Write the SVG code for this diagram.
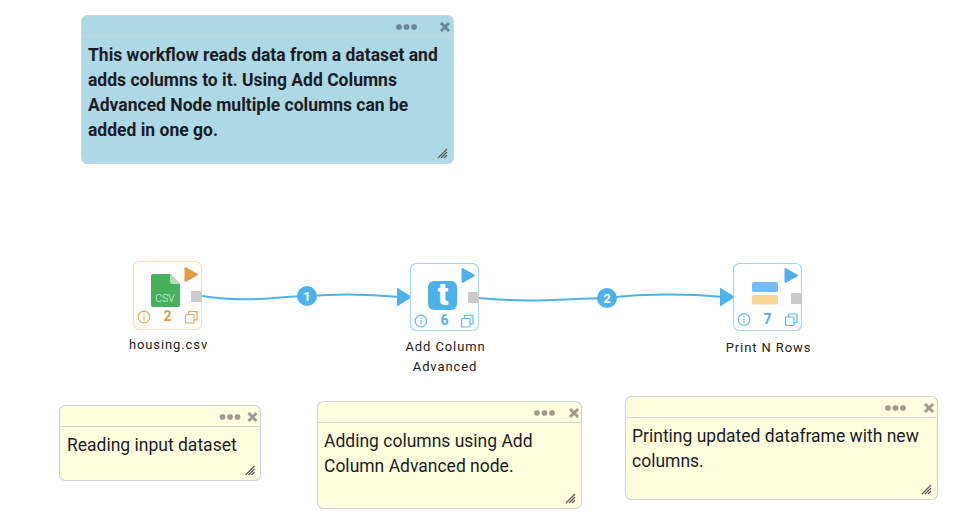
<svg xmlns="http://www.w3.org/2000/svg" width="969" height="523" viewBox="0 0 969 523">
<style>
text{font-family:Roboto,"Liberation Sans",sans-serif}
.note{stroke:#cfd4d8;stroke-width:1.2}
.yellow{fill:#ffffdf}
.blue{fill:#add8e6}
.hline{stroke:#cfd4d8;stroke-width:1}
.body{font-size:17.500px;fill:#1c1c24}
.bold{font-size:17.500px;font-weight:700;fill:#1c1c24}
.dot{fill:#9c9c8c}
.x{stroke:#9c9c8c;stroke-width:3;fill:none}
.dotb{fill:#6b8796}
.xb{stroke:#6b8796;stroke-width:3;fill:none}
.grip{stroke:#5a5a5a;stroke-width:1.200;fill:none}
.card{fill:#fff;stroke-width:1.2}
.port{fill:#cbcbcb}
.label{font-size:13px;letter-spacing:0.9px;fill:#222;text-anchor:middle}
.num{font-size:14px;font-weight:700;text-anchor:middle}
.edge{fill:none;stroke:#4db1ec;stroke-width:2}
.badge{fill:#4db1ec}
.bt{font-size:13px;font-weight:700;fill:#fff;text-anchor:middle}
.ico{fill:none;stroke-width:1.2}
.play{stroke-width:2;stroke-linejoin:round}
</style>
<defs>
<g id="grip"><path class="grip" d="M0 9L9 0M3 9L9 3M6 9L9 6"/></g>
<g id="dotsY"><rect class="dot" x="-2.800" y="-2.800" width="5.600" height="5.600" rx="2.200"/><rect class="dot" x="4.700" y="-2.800" width="5.600" height="5.600" rx="2.200"/><rect class="dot" x="12.200" y="-2.800" width="5.600" height="5.600" rx="2.200"/></g>
<g id="dotsB"><rect class="dotb" x="-2.800" y="-2.800" width="5.600" height="5.600" rx="2.200"/><rect class="dotb" x="4.700" y="-2.800" width="5.600" height="5.600" rx="2.200"/><rect class="dotb" x="12.200" y="-2.800" width="5.600" height="5.600" rx="2.200"/></g>
<path id="xY" class="x" d="M-4 -4L4 4M4 -4L-4 4"/>
<path id="xB" class="xb" d="M-4 -4L4 4M4 -4L-4 4"/>
</defs>

<g id="connectors">
<path class="edge" d="M202 296C250 303 270 297 307 296C345 293 370 294 400 297"/>
<path class="edge" d="M479 298C530 303 560 299 606 298C650 293 690 294 724 297"/>
<path class="badge" d="M412 297L397 287.500V306.500Z"/>
<path class="badge" d="M735 297L720 287.500V306.500Z"/>
<circle class="badge" cx="307" cy="296" r="10"/>
<text class="bt" x="307" y="300.500">1</text>
<circle class="badge" cx="607" cy="298" r="10"/>
<text class="bt" x="607" y="302.500">2</text>
</g>

<g id="note-intro">
<rect class="note blue" x="81.500" y="15.500" width="372" height="148" rx="6"/>
<line class="hline" x1="82" y1="36.500" x2="453" y2="36.500"/>
<use href="#dotsB" x="399" y="27"/><use href="#xB" x="445" y="27"/>
<use href="#grip" x="438" y="149"/>
<text class="bold" x="88" y="61">This workflow reads data from a dataset and</text>
<text class="bold" x="88" y="86">adds columns to it. Using Add Columns</text>
<text class="bold" x="88" y="111">Advanced Node multiple columns can be</text>
<text class="bold" x="88" y="136">added in one go.</text>
</g>

<g id="node-housing">
<rect class="card" x="133.500" y="261.500" width="68" height="68" rx="6" stroke="#fddcb5"/>
<path d="M153 274H170L180 284V305Q180 307 178 307H153Q151 307 151 305V276Q151 274 153 274Z" fill="#46b05c"/>
<path d="M170 274L180 284H172Q170 284 170 282Z" fill="#b0dcb6"/>
<text x="165" y="302" font-size="10.500" font-weight="300" fill="#e4f4e6" text-anchor="middle">CSV</text>
<path class="play" d="M185.500 268V281L197 274.500Z" fill="#e59b45" stroke="#e59b45"/>
<rect class="port" x="191" y="291" width="11" height="11"/>
<g stroke="#e8a55c" class="ico"><circle cx="144" cy="317" r="5.800"/><path d="M144 316V320M144 313.500V314.800"/><rect x="185.500" y="314.500" width="8.500" height="8.500" rx="1"/><path d="M188.500 314.500V311.500H197V320H194"/></g>
<text class="num" x="167.500" y="321" fill="#e59b45">2</text>
<text class="label" x="168.500" y="349">housing.csv</text>
</g>

<g id="node-addcolumn">
<rect class="card" x="410.500" y="263.500" width="68" height="67" rx="6" stroke="#a8d4f5"/>
<rect x="428" y="281" width="29" height="29" rx="6" fill="#4db1ec"/>
<text x="443" y="304.500" font-size="31" font-weight="900" fill="#fff" text-anchor="middle">t</text>
<path class="play" d="M462.500 269V282L474 275.500Z" fill="#4db1ec" stroke="#4db1ec"/>
<rect class="port" x="468" y="292" width="11" height="11"/>
<g stroke="#60b8ee" class="ico"><circle cx="421" cy="321" r="5.800"/><path d="M421 320V324M421 317.500V318.800"/><rect x="461.500" y="318.500" width="8.500" height="8.500" rx="1"/><path d="M464.500 318.500V315.500H473V324H470"/></g>
<text class="num" x="444.500" y="325" fill="#4db1ec">6</text>
<text class="label" x="445.500" y="351">Add Column</text>
<text class="label" x="445" y="371">Advanced</text>
</g>

<g id="node-printrows">
<rect class="card" x="733.500" y="263.500" width="68" height="67" rx="6" stroke="#a8d4f5"/>
<rect x="752" y="282" width="26" height="10" rx="1.500" fill="#73bdf8"/>
<rect x="752" y="295" width="26" height="9.500" rx="1.500" fill="#f8d693"/>
<path class="play" d="M785.500 269V282L797 275.500Z" fill="#4db1ec" stroke="#4db1ec"/>
<rect class="port" x="791" y="293" width="11" height="11"/>
<g stroke="#60b8ee" class="ico"><circle cx="744" cy="319.500" r="5.800"/><path d="M744 318.500V322.500M744 316V317.300"/><rect x="785.500" y="317" width="8.500" height="8.500" rx="1"/><path d="M788.500 317V314H797V322.500H794"/></g>
<text class="num" x="767.500" y="324" fill="#5aa9e6">7</text>
<text class="label" x="768.500" y="352">Print N Rows</text>
</g>

<g id="note-reading">
<rect class="note yellow" x="59.500" y="405.500" width="201" height="75" rx="6"/>
<line class="hline" x1="60" y1="426.500" x2="260" y2="426.500"/>
<use href="#dotsY" x="222.500" y="417"/><use href="#xY" x="252.500" y="417"/>
<use href="#grip" x="245.500" y="466"/>
<text class="body" x="67" y="451">Reading input dataset</text>
</g>

<g id="note-adding">
<rect class="note yellow" x="317.500" y="401.500" width="264" height="107" rx="6"/>
<line class="hline" x1="318" y1="422.500" x2="581" y2="422.500"/>
<use href="#dotsY" x="537" y="413"/><use href="#xY" x="574" y="413"/>
<use href="#grip" x="566" y="494"/>
<text class="body" x="324" y="447">Adding columns using Add</text>
<text class="body" x="324" y="472">Column Advanced node.</text>
</g>

<g id="note-printing">
<rect class="note yellow" x="625.500" y="396.500" width="312" height="103" rx="6"/>
<line class="hline" x1="626" y1="417.500" x2="937" y2="417.500"/>
<use href="#dotsY" x="888" y="408"/><use href="#xY" x="929" y="408"/>
<use href="#grip" x="922" y="485"/>
<text class="body" x="632" y="442">Printing updated dataframe with new</text>
<text class="body" x="632" y="467">columns.</text>
</g>
</svg>
